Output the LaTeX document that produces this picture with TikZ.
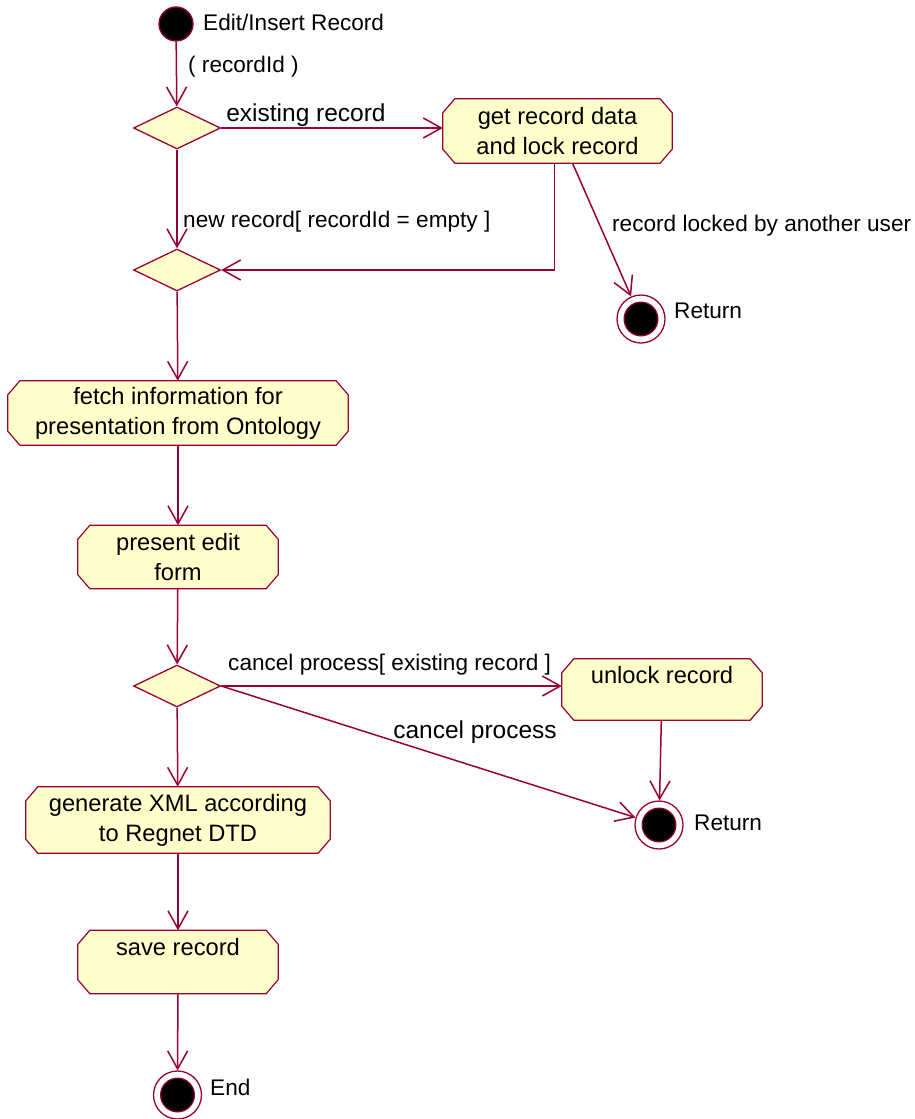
\documentclass[tikz,border=0pt]{standalone}
\usepackage{fontspec}
\setmainfont{Liberation Sans}
\usetikzlibrary{arrows.meta,shapes.geometric,backgrounds}
\definecolor{umlline}{HTML}{990033}
\definecolor{umlfill}{HTML}{FFFFCC}
\tikzset{
  flow/.style={draw=umlline, line width=1.5pt,
    -{Straight Barb[length=18pt,width=20pt,line width=1.5pt]}},
  act/.style={inner sep=0pt, align=center, font=\fontsize{23.7}{30}\selectfont},
  boxline/.style={draw=umlline, fill=umlfill, line width=1.2pt},
  decision/.style={diamond, draw=umlline, fill=umlfill, line width=1.3pt,
    minimum width=87pt, minimum height=42pt, inner sep=0pt},
  startdot/.style={circle, fill=black, draw=umlline, line width=1.3pt,
    minimum size=34pt, inner sep=0pt},
  enddot/.style={circle, fill=white, draw=umlline, line width=1.3pt,
    minimum size=48pt, inner sep=0pt,
    path picture={\fill[umlline] (path picture bounding box.center) circle (17.5pt);
                  \fill[black] (path picture bounding box.center) circle (16.2pt);}},
  lbl/.style={font=\fontsize{22.6}{26}\selectfont, inner sep=0pt},
  biglbl/.style={font=\fontsize{24.5}{28}\selectfont, inner sep=0pt},
}
% chamfered activity outline drawn behind a named node
\newcommand\octbox[1]{%
  \begin{pgfonlayer}{background}
    \filldraw[boxline]
      ([xshift=12pt]#1.north west) -- ([xshift=-12pt]#1.north east)
      -- ([yshift=-14pt]#1.north east) -- ([yshift=14pt]#1.south east)
      -- ([xshift=-12pt]#1.south east) -- ([xshift=12pt]#1.south west)
      -- ([yshift=14pt]#1.south west) -- ([yshift=-14pt]#1.north west) -- cycle;
  \end{pgfonlayer}}
\begin{document}
\begin{tikzpicture}[x=1pt, y=-1pt]
\useasboundingbox (0,0) rectangle (914,1119);

% states and decisions
\node[startdot] (start) at (176,24) {};
\node[lbl, anchor=west] (tstart) at (203,22) {Edit/Insert Record};
\node[decision] (d1) at (177,128) {};
\node[act, minimum width=229pt, minimum height=64pt] (b1) at (557.5,131)
  {get record data\\and lock record};
\octbox{b1}
\node[decision] (d2) at (177,270) {};
\node[enddot] (r1) at (641,319) {};
\node[lbl, anchor=west] (tr1) at (674,311) {Return};
\node[act, minimum width=340pt, minimum height=64pt] (fetch) at (178,413)
  {fetch information for\\presentation from Ontology};
\octbox{fetch}
\node[act, minimum width=200pt, minimum height=63pt] (present) at (178,557)
  {present edit\\form};
\octbox{present}
\node[decision] (d3) at (177,686) {};
\node[act, minimum width=200pt, minimum height=61pt] (unlock) at (662,689.5)
  {unlock record\\\mbox{}};
\octbox{unlock}
\node[enddot] (r2) at (659,825) {};
\node[lbl, anchor=west] (tr2) at (694,823) {Return};
\node[act, minimum width=304pt, minimum height=66pt] (gen) at (178,820)
  {generate XML according\\to Regnet DTD};
\octbox{gen}
\node[act, minimum width=200pt, minimum height=63pt] (save) at (178,962)
  {save record\\\mbox{}};
\octbox{save}
\node[enddot] (fin) at (177.5,1095) {};
\node[lbl, anchor=west] (tfin) at (210,1087) {End};

% transition labels
\node[lbl, anchor=west] (lrid) at (188,67) {( recordId )};
\node[biglbl] (lexist) at (306,115) {existing record};
\node[lbl, anchor=west] (lnew) at (183,222) {new record[ recordId = empty ]};
\node[lbl, anchor=west] (llock) at (612,226) {record locked by another user};
\node[lbl, anchor=west] (lcancelx) at (228,665) {cancel process[ existing record ]};
\node[biglbl] (lcancel) at (475,732) {cancel process};

% transitions
\draw[flow] (start) -- (d1);
\draw[flow] (d1.east) -- (d1.east -| b1.west);
\draw[flow] (d1) -- (d2);
\draw[flow] ([xshift=-3pt]b1.south) |- (d2.east);
\draw[flow] ([xshift=15pt]b1.south) -- (r1);
\draw[flow] (d2) -- (fetch);
\draw[flow] (fetch) -- (present);
\draw[flow] (present) -- (d3);
\draw[flow] (d3.east) -- (d3.east -| unlock.west);
\draw[flow] (d3.east) -- (r2);
\draw[flow] (unlock) -- (r2);
\draw[flow] (d3) -- (gen);
\draw[flow] (gen) -- (save);
\draw[flow] (save) -- (fin);
\end{tikzpicture}
\end{document}
